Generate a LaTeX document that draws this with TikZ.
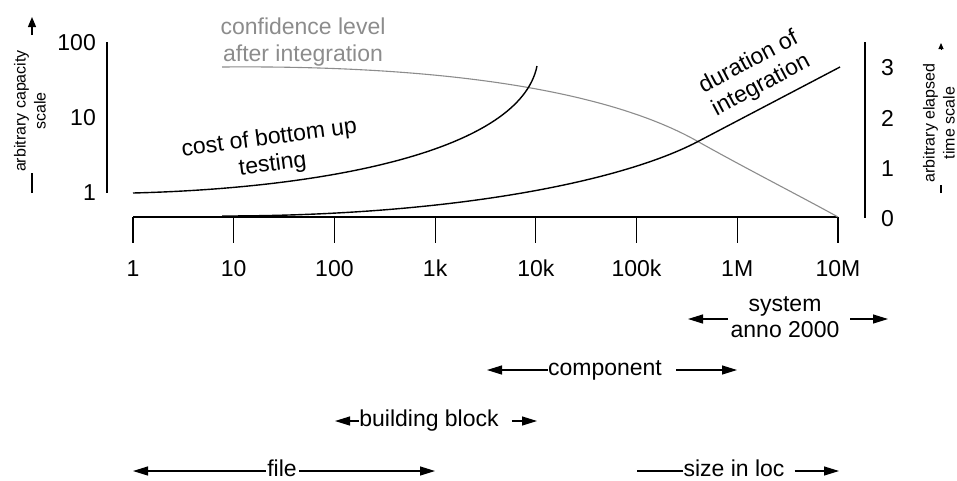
\documentclass[tikz,border=0pt]{standalone}
\usepackage{fontspec}
\setmainfont{Liberation Sans}
\usetikzlibrary{arrows.meta}
\definecolor{confgray}{RGB}{140,140,140}
\begin{document}
\begin{tikzpicture}[x=1pt,y=-1pt,
  lbl/.style={font=\fontsize{23}{26.5}\selectfont, inner sep=0pt},
  one/.style={lbl, text height=16.5pt, text depth=0pt},
  wrd/.style={lbl, text height=16.5pt, text depth=5pt},
  sm/.style={font=\fontsize{16}{20}\selectfont, inner sep=0pt, align=center, rotate=90},
  arr/.style={-{Triangle[length=15pt,width=9pt]}, line width=1.2pt},
  plain/.style={line width=1.2pt},
  axisln/.style={line width=1.5pt},
  curve/.style={line width=1.4pt},
  gcurve/.style={line width=1.1pt, draw=confgray}
]
\useasboundingbox (0,0) rectangle (957,480);

% horizontal axis with ticks
\draw[axisln] (133,217) coordinate (ax0) -- (838,217) coordinate (ax1);
\foreach \i/\t in {0/1,1/10,2/100,3/1k,4/10k,5/100k,6/1M,7/10M}{
  \coordinate (tk\i) at (133+100.7*\i,217);
  \draw[plain] (tk\i) -- ++(0,26);
  \node[one] (tl\i) at (133+100.7*\i,268) {\t};
}

% left vertical scale
\draw[axisln] (107,42) coordinate (la0) -- (107,193) coordinate (la1);
\node[one, anchor=east] (l100) at (96,42) {100};
\node[one, anchor=east] (l10) at (96,117) {10};
\node[one, anchor=east] (l1) at (96,192) {1};
\node[sm] (caplab) at (30,111) {arbitrary capacity\\scale};
\coordinate (ca0) at (32,193); \coordinate (ca1) at (32,173);
\coordinate (ca2) at (32,35); \coordinate (ca3) at (32,17);
\draw[plain] (ca0) -- (ca1);
\draw[plain, -{Triangle[length=10pt,width=8pt]}] (ca2) -- (ca3);

% right vertical scale
\draw[axisln] (865,42) coordinate (ra0) -- (865,218) coordinate (ra1);
\node[one, anchor=west] (r3) at (881,67) {3};
\node[one, anchor=west] (r2) at (881,118) {2};
\node[one, anchor=west] (r1) at (881,168) {1};
\node[one, anchor=west] (r0) at (881,218) {0};
\node[sm] (timelab) at (939,123) {arbitrary elapsed\\time scale};
\coordinate (ta0) at (941,193); \coordinate (ta1) at (941,185);
\coordinate (ta2) at (941,50); \coordinate (ta3) at (941,43);
\draw[plain] (ta0) -- (ta1);
\draw[line width=1pt, -{Triangle[length=6pt,width=5pt]}] (ta2) -- (ta3);

% curves
\draw[gcurve] (222,67) .. controls (450,65) and (610,92) .. (697,141)
              .. controls (745,168) and (800,196) .. (838,217);
\draw[curve] (133,193) .. controls (330,188) and (520,150) .. (537,66);
\draw[curve] (222,216) .. controls (450,216) and (620,182) .. (697,142) -- (840,67);

% curve labels
\node[lbl, text=confgray, align=center] (conf) at (303,42) {confidence level\\after integration};
\node[lbl, align=center, rotate=7.5] (costlab) at (271,152) {cost of bottom up\\testing};
\node[lbl, align=center, rotate=28] (durlab) at (755,74) {duration of\\integration};

% range arrows
\node[lbl, align=center] (sys) at (785,317) {system\\anno 2000};
\coordinate (sysL) at (688,319); \coordinate (sysR) at (888,319);
\draw[arr] (728,319) coordinate (sysa) -- (sysL);
\draw[arr] (850,319) coordinate (sysb) -- (sysR);

\node[wrd] (comp) at (605,370) {component};
\coordinate (compL) at (487,370); \coordinate (compR) at (737,370);
\draw[arr] (comp.west) -- (compL);
\draw[arr] ([xshift=14pt]comp.east) -- (compR);

\node[wrd] (bb) at (429,421) {building block};
\coordinate (bbL) at (335,421); \coordinate (bbR) at (537,421);
\draw[arr] (bb.west) -- (bbL);
\draw[arr] ([xshift=13pt]bb.east) -- (bbR);

\node[wrd] (file) at (282,471) {file};
\coordinate (fileL) at (133,471); \coordinate (fileR) at (435,471);
\draw[arr] ([xshift=-1pt]file.west) -- (fileL);
\draw[arr] ([xshift=2pt]file.east) -- (fileR);

\node[wrd] (loc) at (734,471) {size in loc};
\coordinate (locL) at (637,471); \coordinate (locR) at (839,471);
\draw[plain] (loc.west) -- (locL);
\draw[arr] ([xshift=10pt]loc.east) -- (locR);
\end{tikzpicture}
\end{document}
